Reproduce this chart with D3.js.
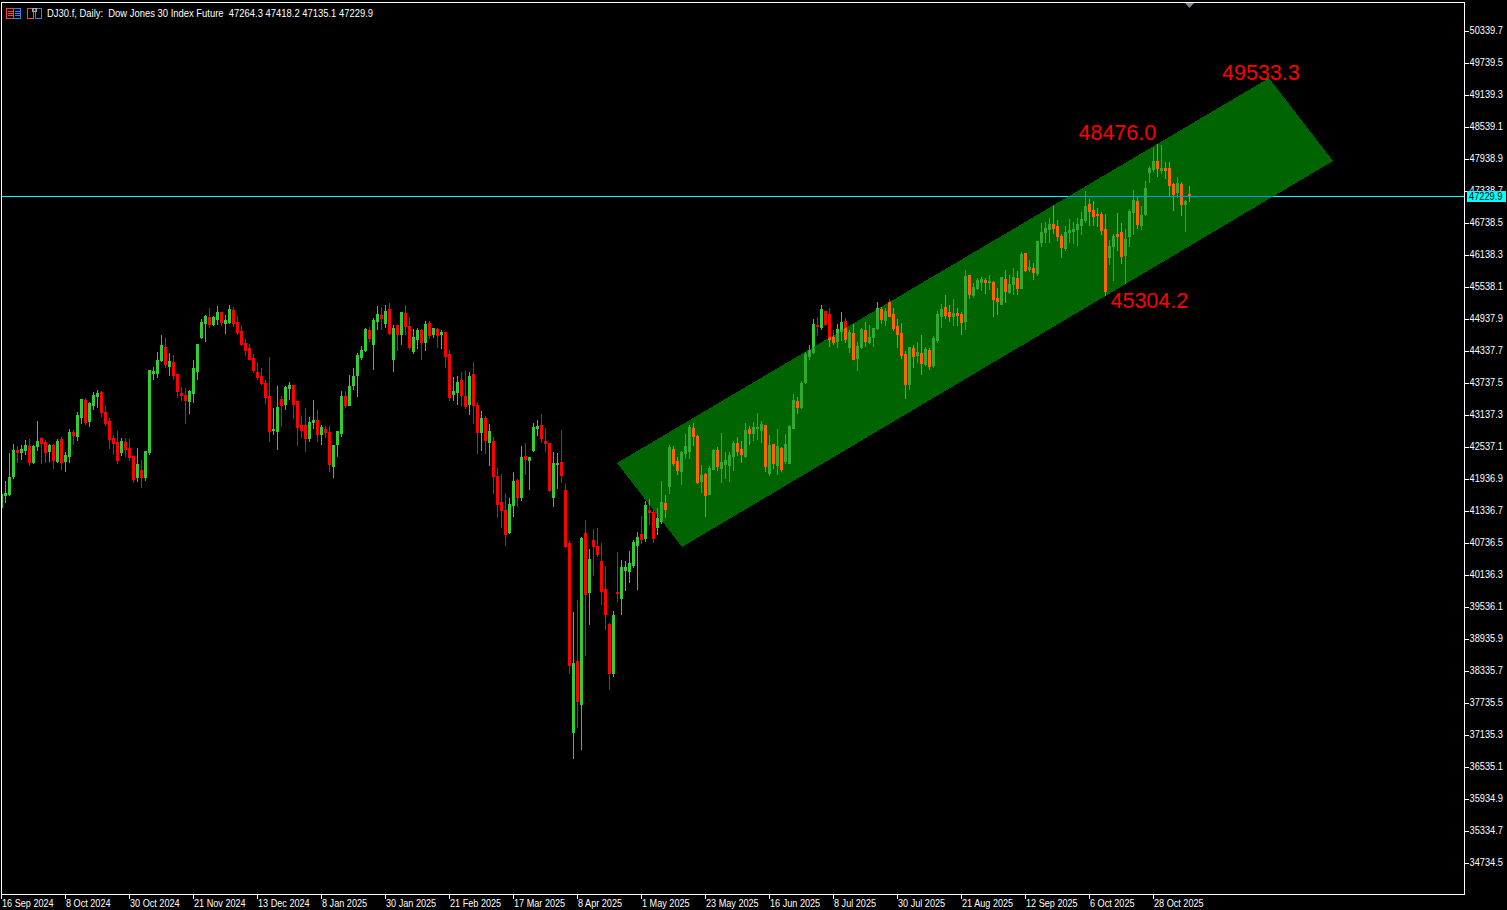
<!DOCTYPE html>
<html>
<head>
<meta charset="utf-8">
<script src="https://d3js.org/d3.v7.min.js"></script>
<style>
html,body{margin:0;padding:0;background:#000;overflow:hidden}
svg{display:block}
text{font-family:"Liberation Sans",Arial,sans-serif;font-size:10.6px;fill:#fff}
</style>
</head>
<body>
<div id="chart"></div>
<script>
const opens=[41393,41618,41637,41974,42462,42424,42462,42537,42237,42537,
42687,42612,42443,42556,42256,42669,42256,42350,42799,42725,
43081,43400,43006,43306,43475,43550,43175,43006,42687,42612,
42424,42612,42500,42350,41956,42087,41956,42424,43907,43907,
44150,44394,44037,44112,43888,43531,43494,43381,43531,43944,
44582,44844,44956,44825,44919,45050,44844,44863,45088,44863,
44694,44469,44375,44187,43925,43850,43719,43475,42837,42818,
43419,43325,43625,43681,43381,42931,42931,42687,42987,43025,
42762,42856,42799,42162,42575,42781,43475,43306,43681,43869,
44206,44338,44713,44450,44881,44994,44844,45107,44169,44807,
44638,45032,44788,44319,44544,44713,44487,44844,44638,44732,
44638,44675,44263,43512,43550,43775,43475,43325,43888,43306,
42799,43062,42612,42631,41974,41486,41337,40924,41430,41899,
41581,42350,42275,42462,42875,42931,42631,42594,41581,42200,
42237,41712,40718,37173,38504,37698,40906,39799,40774,40662,
40380,39855,39199,38280,39799,39686,40211,40192,40305,40681,
40887,40812,41337,41299,41018,41130,41468,41787,42481,42256,
42068,42406,42443,42875,42725,41880,42012,41637,42106,42462,
42125,42200,42181,42350,42594,42481,42350,42856,42781,42875,
42837,42931,42031,42575,42181,42500,42256,42219,42875,43381,
43269,43737,44225,44300,44807,44769,45069,45013,44581,44506,
44694,44881,44394,44657,44187,44394,44713,44487,44581,44750,
45107,44900,45238,45013,44788,44657,44263,43700,44375,44244,
44281,44075,44338,44056,44525,44975,45144,45050,44975,45032,
45013,44881,45744,45369,45500,45613,45651,45613,45613,45313,
45201,45669,45426,45576,45688,45501,46157,45857,45876,45782,
46363,46551,46607,46701,46663,46476,46251,46551,46570,46607,
46682,46776,47076,46964,46889,46889,46607,46082,46288,46513,
46551,46120,46476,46926,47132,46682,46889,47676,47732,47882,
47714,47751,47751,47451,47301,47451,47076,47264.3];
const highs=[41674,41880,42406,42575,42537,42556,42650,42668,42556,43006,
42706,42650,42575,42575,42669,42706,42424,42856,42837,43175,
43419,43437,43362,43550,43587,43569,43287,43062,42743,42818,
42687,42687,42669,42350,42500,42275,42443,43963,44019,44300,
44619,44563,44281,44244,43888,43644,43625,43587,44150,44450,
44919,44994,45125,44975,45163,45050,44994,45182,45144,44975,
44807,44544,44450,44263,44094,44000,43775,44206,43250,43662,
43475,43662,43737,43681,43381,43100,43250,43081,43400,43212,
42931,42912,42912,42556,42818,43569,43569,43869,44000,44281,
44413,44750,44769,44938,45163,45144,45182,45219,44807,44807,
45050,45182,44956,44732,44750,44732,44881,44881,44750,44750,
44713,44675,44338,43832,43850,43925,43944,43925,44112,43362,
43194,43100,42950,42706,42125,42012,41656,41561,42050,41918,
42537,42594,42331,42969,43025,43137,42875,42594,42424,42406,
42837,41824,40756,39424,39649,40831,41149,40606,40981,41000,
40718,40286,39218,39442,40549,40399,40380,40568,40774,40925,
41224,41505,41543,41337,41374,41880,41618,42556,42537,42331,
42443,42762,42931,42969,42743,42181,42031,42162,42481,42518,
42781,42424,42424,42631,42706,42631,42969,42912,42987,43156,
43006,42931,42743,42575,42856,42518,42762,42931,43513,43456,
43756,44300,44431,44919,44956,45182,45069,45125,44713,44825,
45050,44938,44713,44825,44487,44750,44863,44807,44750,45238,
45144,45125,45294,45125,44919,44844,44319,44394,44431,44487,
44619,44394,44375,44600,45069,45200,45369,45182,45294,45125,
45050,45838,45744,45594,45688,45707,45688,45744,45632,45501,
45707,45838,45744,45876,45819,46176,46157,46026,45970,46382,
46720,46739,46814,47057,46776,46513,46663,46795,46739,46814,
46926,47320,47170,47132,47001,46926,46889,46401,46513,46907,
46720,46607,46982,47339,47207,47039,47507,47789,48126,48201,
48182,47863,47863,47470,47582,47489,47151,47418.2];
const lows=[41393,41486,41618,41937,42237,42293,42387,42181,42219,42462,
42219,42237,42256,42125,42237,42106,42068,42237,42575,42650,
42969,42950,42912,43231,43269,43100,42931,42500,42387,42219,
42368,42350,42275,41862,41880,41768,41899,42387,43794,43832,
44131,44019,43869,43794,43456,43400,42969,43156,43362,43794,
44563,44506,44769,44806,44825,44806,44657,44844,44788,44638,
44431,44244,44169,43925,43794,43700,43344,42631,42762,42481,
42912,43231,43419,43062,42556,42706,42443,42631,42875,42631,
42575,42706,42068,41956,42350,42725,43269,43306,43606,43475,
44169,44319,44506,43981,44732,44732,44769,44638,43944,44338,
44450,44638,44356,44281,44375,44169,44338,44563,44581,44394,
44375,44019,43400,43400,43325,43306,43250,43137,42969,42406,
42462,42406,42181,41656,41205,41018,40681,40906,41224,41411,
41524,42012,41731,42443,42743,42612,42443,41693,41411,41749,
41862,40643,38280,36685,37267,36854,38617,39199,40117,40474,
39574,39105,37979,38223,39630,39386,39836,39986,40268,39855,
40718,40756,41074,40737,40887,41093,41205,41656,42181,42012,
41824,42312,42312,42556,41843,41674,41224,41637,42106,42087,
41862,41937,41880,42087,42368,42237,42331,42575,42650,42669,
42612,42068,41993,42125,42012,42068,42219,42219,42875,43156,
43250,43719,44169,44281,44619,44732,44806,44413,44450,44394,
44525,44487,44300,44169,43963,44375,44413,44469,44413,44732,
44844,44807,44975,44713,44394,44187,43437,43606,44019,44112,
43888,44056,43981,44019,44487,44769,44938,44881,44807,44807,
44638,44732,45313,45332,45482,45463,45407,45482,44975,45013,
45201,45238,45407,45388,45388,45501,45819,45819,45669,45744,
46288,46363,46363,46532,46401,46082,46213,46363,46344,46307,
46513,46739,46682,46682,46663,46513,45369,45951,45651,46213,
45970,45595,46288,46513,46626,46607,46870,47489,47695,47601,
47657,47563,47245,46964,47207,46870,46570,47135.1];
const closes=[41637,41656,41956,42462,42424,42481,42556,42237,42537,42631,
42594,42424,42556,42275,42631,42237,42368,42799,42743,43118,
43419,42987,43344,43494,43531,43175,42969,42669,42594,42275,
42631,42481,42331,41918,42200,41956,42443,43963,43944,44150,
44431,44075,44131,43869,43569,43494,43400,43569,44000,44450,
44863,44975,44825,44956,45050,44863,44900,45107,44844,44675,
44450,44338,44169,43963,43832,43719,43456,42818,42856,43269,
43306,43644,43681,43325,42893,42837,42687,42987,43025,42762,
42893,42799,42200,42556,42818,43475,43306,43662,43850,44244,
44338,44732,44563,44900,45013,44938,45069,44657,44750,44638,
45050,44788,44394,44581,44713,44487,44825,44619,44750,44619,
44675,44225,43456,43569,43737,43494,43287,43850,43306,42799,
43062,42650,42818,41974,41449,41337,40887,41449,41880,41581,
42331,42293,42331,42893,42912,42687,42594,41712,42219,42219,
41993,40662,38429,38467,37754,40812,39761,40418,40662,40512,
39817,39386,38280,39367,39780,40268,40268,40343,40737,40831,
40793,41430,41299,40812,41186,41486,41355,42518,42219,42087,
42424,42537,42893,42725,41862,41993,41618,42125,42462,42162,
42237,42275,42368,42594,42443,42387,42837,42781,42893,42893,
42950,42162,42556,42219,42537,42106,42575,42912,43400,43269,
43719,44263,44338,44825,44788,45107,44825,44544,44487,44732,
44863,44544,44675,44169,44413,44732,44506,44581,44750,45125,
44919,45069,44975,44750,44638,44244,43700,44394,44225,44300,
44094,44356,44037,44563,45013,45107,44994,44975,45032,44994,
44863,45726,45388,45519,45651,45669,45613,45632,45294,45257,
45707,45444,45576,45707,45501,46138,45838,45895,45801,46382,
46551,46626,46701,46626,46476,46269,46551,46588,46607,46701,
46795,47039,46945,46851,46870,46588,45444,46288,46476,46476,
46101,46420,46945,47151,46701,46870,47376,47751,47882,47751,
47751,47714,47432,47263,47470,47076,47132,47229.9];

const dateLabels=["16 Sep 2024","8 Oct 2024","30 Oct 2024","21 Nov 2024","13 Dec 2024","8 Jan 2025","30 Jan 2025","21 Feb 2025","17 Mar 2025","8 Apr 2025","1 May 2025","23 May 2025","16 Jun 2025","8 Jul 2025","30 Jul 2025","21 Aug 2025","12 Sep 2025","6 Oct 2025","28 Oct 2025"];
const dateBars=[0,16,32,48,64,80,96,112,128,144,160,176,192,208,224,240,256,272,288];
const priceTicks=[50339.7,49739.5,49139.3,48539.1,47938.9,47338.7,46738.5,46138.3,45538.1,44937.9,44337.7,43737.5,43137.3,42537.1,41936.9,41336.7,40736.5,40136.3,39536.1,38935.9,38335.7,37735.5,37135.3,36535.1,35934.9,35334.7,34734.5];
const channelBars=[154,317,333,170.25];
const channelPrices=[42219,49439,47882,40643];
const channelLabels=["49533.3","48476.0","45304.2"];
const lastPrice=47229.9;
const headerText="DJ30.f, Daily:  Dow Jones 30 Index Future  47264.3 47418.2 47135.1 47229.9";

const W=1507,H=910,fL=1,fT=2,fR=1464,fB=894;
const x=d3.scaleLinear().domain([0,1]).range([1,5]);
const y=d3.scaleLinear().domain([50339.7,34734.5]).range([30,862]);
const py=p=>Math.round(y(p));
// narrows the horizontal run of a text so the small labels keep the reference's tall, tight look
const squeeze=(sel,k)=>sel.each(function(){
  this.setAttribute("textLength",this.getComputedTextLength()*k);
  this.setAttribute("lengthAdjust","spacingAndGlyphs");
});

const svg=d3.select("#chart").append("svg").attr("width",W).attr("height",H).style("background","#000");
const defs=svg.append("defs");
defs.append("clipPath").attr("id","plot").append("rect").attr("x",fL+1).attr("y",fT+1).attr("width",fR-fL-1).attr("height",fB-fT-1);
const channelPts=channelBars.map((b,i)=>[x(b),y(channelPrices[i])]);
defs.append("clipPath").attr("id","chan").append("polygon").attr("points",channelPts.join(" ")).attr("shape-rendering","crispEdges");

function drawCandles(g,upC,downC,lineC){
  const cols=d3.range(opens.length).map(i=>closes[i]>=opens[i]?upC:downC);
  g.selectAll("rect.w").data(opens).join("rect").attr("class","w")
    .attr("x",(d,i)=>x(i)).attr("width",1)
    .attr("y",(d,i)=>py(highs[i])).attr("height",(d,i)=>py(lows[i])-py(highs[i])+1)
    .attr("fill",(d,i)=>cols[i]);
  g.selectAll("rect.b").data(opens).join("rect").attr("class","b")
    .attr("x",(d,i)=>x(i)-1).attr("width",3)
    .attr("y",(d,i)=>py(Math.max(d,closes[i])))
    .attr("height",(d,i)=>py(Math.min(d,closes[i]))-py(Math.max(d,closes[i]))+1)
    .attr("fill",(d,i)=>cols[i]);
  g.append("rect").attr("x",fL+1).attr("width",fR-fL-1).attr("y",py(lastPrice)).attr("height",1).attr("fill",lineC);
}

const plot=svg.append("g").attr("clip-path","url(#plot)").attr("shape-rendering","crispEdges");
drawCandles(plot.append("g"),"#32CD32","#FF0000","#00FFFF");
plot.append("polygon").attr("points",channelPts.join(" ")).attr("fill","#006400");
drawCandles(plot.append("g").attr("clip-path","url(#chan)"),"#32A932","#FF6400","#009BFF");

// frame
const frame=svg.append("g").attr("shape-rendering","crispEdges");
frame.append("rect").attr("x",fL+.5).attr("y",fT+.5).attr("width",fR-fL).attr("height",fB-fT).attr("fill","none").attr("stroke","#fff");

// price axis
const axY=d3.axisRight(y).tickValues(priceTicks).tickFormat(d3.format(".1f")).tickSize(4).tickPadding(1);
const gy=svg.append("g").attr("transform",`translate(${fR+.5},0.5)`).call(axY);
gy.attr("font-size",null).attr("font-family",null);
gy.select(".domain").remove();
gy.selectAll("line").attr("stroke","#fff").attr("shape-rendering","crispEdges");
gy.selectAll("text").attr("fill","#fff").call(squeeze,0.87);

// time axis
const axX=d3.axisBottom(x).tickValues(dateBars).tickFormat((d,i)=>dateLabels[i]).tickSize(4).tickPadding(1);
const gx=svg.append("g").attr("transform",`translate(0,${fB+.5})`).call(axX);
gx.attr("font-size",null).attr("font-family",null);
gx.select(".domain").remove();
gx.selectAll("line").attr("stroke","#fff").attr("shape-rendering","crispEdges");
gx.selectAll("text").attr("text-anchor","start").attr("x",0.5).attr("fill","#fff").call(squeeze,0.86);

// last price tag
const tag=svg.append("g");
tag.append("rect").attr("x",1467).attr("y",py(lastPrice)-5).attr("width",39).attr("height",11).attr("fill","#00FFFF").attr("shape-rendering","crispEdges");
tag.append("text").attr("x",1469).attr("y",py(lastPrice)+4).style("fill","#000").text(d3.format(".1f")(lastPrice)).call(squeeze,0.87);

// channel labels
const labelPos=[[1222,80],[1078.5,140],[1110.5,308]];
svg.selectAll("text.lab").data(channelLabels).join("text").attr("class","lab")
  .attr("x",(d,i)=>labelPos[i][0]).attr("y",(d,i)=>labelPos[i][1])
  .style("font-size","21.5px").style("fill","#FF0000").text(d=>d);

// header
svg.append("text").attr("x",47).attr("y",17).style("white-space","pre").text(headerText).call(squeeze,0.89);
const ic=svg.append("g").attr("fill","none").attr("shape-rendering","crispEdges");
ic.append("rect").attr("x",6.5).attr("y",8.5).attr("width",7).attr("height",10).attr("stroke","#FF4040");
ic.append("rect").attr("x",13.5).attr("y",8.5).attr("width",7).attr("height",10).attr("stroke","#2F7FFF");
ic.append("path").attr("d","M8 11.5H13M8 13.5H13M8 15.5H13").attr("stroke","#FF4040");
ic.append("path").attr("d","M15 11.5H20M15 13.5H20M15 15.5H20").attr("stroke","#2F7FFF");
ic.append("rect").attr("x",27.5).attr("y",8.5).attr("width",6).attr("height",10).attr("stroke","#FF4040");
ic.append("rect").attr("x",35.5).attr("y",8.5).attr("width",6).attr("height",10).attr("stroke","#2F7FFF");
ic.append("rect").attr("x",32.5).attr("y",8.5).attr("width",4).attr("height",3).attr("stroke","#AAAAAA");

// shift marker
svg.append("polygon").attr("points","1185,3 1194,3 1189.5,8").attr("fill","#778899");
</script>
</body>
</html>
